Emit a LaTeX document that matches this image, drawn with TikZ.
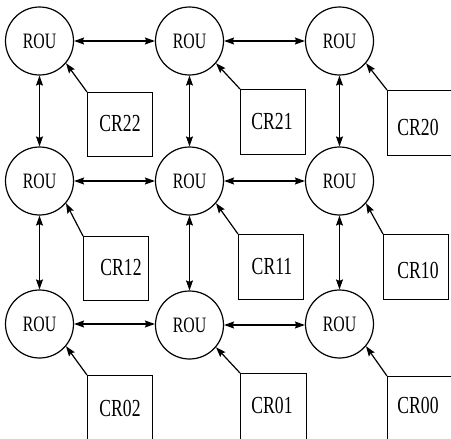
\documentclass[tikz,border=0pt]{standalone}
\usepackage{fontspec}
\setmainfont{Liberation Serif}[FakeStretch=0.72]
\usetikzlibrary{arrows.meta}
\begin{document}
\begin{tikzpicture}[x=1pt,y=-1pt,
  rou/.style={draw,circle,line width=1.2pt,minimum size=68pt,inner sep=0pt,font=\fontsize{22}{24}\selectfont},
  crbox/.style={draw,line width=1.2pt,inner sep=0pt},
  crtext/.style={font=\fontsize{24.5}{26}\selectfont,inner sep=0pt},
  link/.style={line width=1.2pt,{Stealth[length=10pt,width=7pt,inset=1.5pt]}-{Stealth[length=10pt,width=7pt,inset=1.5pt]}},
  feed/.style={line width=1.2pt,-{Stealth[length=10pt,width=7pt,inset=1.5pt]}}]
\useasboundingbox (0,0) rectangle (451,439);
\clip (0,0) rectangle (451,439);
% routers
\node[rou] (r22) at (39.5,41) {ROU};
\node[rou] (r21) at (189.5,41) {ROU};
\node[rou] (r20) at (339.5,41) {ROU};
\node[rou] (r12) at (39.5,181) {ROU};
\node[rou] (r11) at (189.5,181) {ROU};
\node[rou] (r10) at (339.5,181) {ROU};
\node[rou] (r02) at (39.5,324) {ROU};
\node[rou] (r01) at (189.5,325) {ROU};
\node[rou] (r00) at (339.5,324) {ROU};
% boxes
\node[crbox,minimum width=65pt,minimum height=64pt,anchor=north west] (c22) at (87,92) {};
\node[crbox,minimum width=65pt,minimum height=65pt,anchor=north west] (c21) at (240,89) {};
\node[crbox,minimum width=66pt,minimum height=65pt,anchor=north west] (c20) at (387,90) {};
\node[crbox,minimum width=65pt,minimum height=64pt,anchor=north west] (c12) at (83,236) {};
\node[crbox,minimum width=65pt,minimum height=65pt,anchor=north west] (c11) at (238,234) {};
\node[crbox,minimum width=65pt,minimum height=65pt,anchor=north west] (c10) at (383,234) {};
\node[crbox,minimum width=65pt,minimum height=70pt,anchor=north west] (c02) at (87,375) {};
\node[crbox,minimum width=66pt,minimum height=70pt,anchor=north west] (c01) at (240,373) {};
\node[crbox,minimum width=66pt,minimum height=70pt,anchor=north west] (c00) at (387,376) {};
% labels
\node[crtext] (t22) at (120,124) {CR22};
\node[crtext] (t21) at (272,122) {CR21};
\node[crtext] (t20) at (418,127) {CR20};
\node[crtext] (t12) at (121,268) {CR12};
\node[crtext] (t11) at (272,267) {CR11};
\node[crtext] (t10) at (418,270) {CR10};
\node[crtext] (t02) at (120,408) {CR02};
\node[crtext] (t01) at (272,405) {CR01};
\node[crtext] (t00) at (418,405) {CR00};
% horizontal links
\draw[link] (r22) -- (r21);
\draw[link] (r21) -- (r20);
\draw[link] (r12) -- (r11);
\draw[link] (r11) -- (r10);
\draw[link] (r02.east) -- (r01.west |- r02.east);
\draw[link] (r01.east) -- (r00.west |- r01.east);
% vertical links
\draw[link] (r22) -- (r12);
\draw[link] (r21) -- (r11);
\draw[link] (r20) -- (r10);
\draw[link] (r12) -- (r02);
\draw[link] (r11) -- (r01);
\draw[link] (r10) -- (r00);
% feeds
\draw[feed] (c22.north west) -- (r22.-40);
\draw[feed] (c21.north west) -- (r21.-40);
\draw[feed] (c20.north west) -- (r20.-40);
\draw[feed] (c12.north west) -- (r12.-40);
\draw[feed] (c11.north west) -- (r11.-40);
\draw[feed] (c10.north west) -- (r10.-40);
\draw[feed] (c02.north west) -- (r02.-40);
\draw[feed] (c01.north west) -- (r01.-40);
\draw[feed] (c00.north west) -- (r00.-40);
\end{tikzpicture}
\end{document}
